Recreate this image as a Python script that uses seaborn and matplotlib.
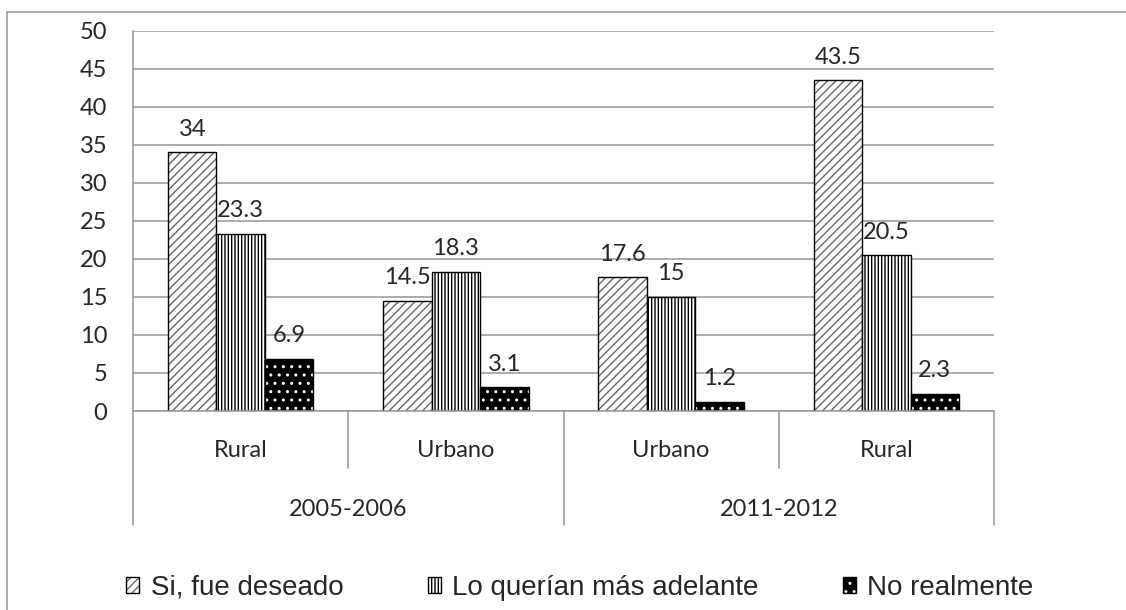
import pandas as pd
import matplotlib.pyplot as plt
import matplotlib.colors as mcolors
import matplotlib.transforms as mtransforms
from matplotlib.patches import Rectangle
import seaborn as sns

# ----------------------
# Data
# ----------------------

periodos = ["2005-2006", "2005-2006", "2011-2012", "2011-2012"]
zonas = ["Rural", "Urbano", "Urbano", "Rural"]
series = ["Si, fue deseado", "Lo querían más adelante", "No realmente"]

deseado = [34, 14.5, 17.6, 43.5]
mas_adelante = [23.3, 18.3, 15, 20.5]
no_realmente = [6.9, 3.1, 1.2, 2.3]

y_ticks = [0, 5, 10, 15, 20, 25, 30, 35, 40, 45, 50]

# ----------------------
# Style
# ----------------------

sns.set_style("white")
plt.rcParams["font.family"] = ["Lato", "DejaVu Sans"]
plt.rcParams["hatch.linewidth"] = 1.0

GRID = "#969696"
NUM_SIZE = 17

keys = [f"{z} {p}" for z, p in zip(zonas, periodos)]
records = []
for name, vals in zip(series, [deseado, mas_adelante, no_realmente]):
    for k, v in zip(keys, vals):
        records.append({"grupo": k, "serie": name, "valor": v})
df = pd.DataFrame(records)

fig = plt.figure(figsize=(11.26, 6.10), dpi=100)
ax = fig.add_axes([133 / 1126, 1 - 411 / 610, 861 / 1126, 380.3 / 610])

sns.barplot(data=df, x="grupo", y="valor", hue="serie", order=keys,
            hue_order=series, width=0.675, gap=0, palette=["white", "white", "black"],
            edgecolor="black", linewidth=1.0, legend=False, ax=ax)

# hatch patterns: diagonal, vertical stripes, white dots on black
hatches = ["////", "|||||", ".."]
hatch_colors = ["#666666", "black", "white"]
for cont, h, hc in zip(ax.containers, hatches, hatch_colors):
    for p in cont.patches:
        p.set_hatch(h)
        p._hatch_color = mcolors.to_rgba(hc)
    ax.bar_label(cont, fmt="{:g}", padding=9, fontsize=NUM_SIZE)

# ----------------------
# Axes
# ----------------------

ax.set_ylim(0, 50)
ax.set_xlim(-0.5, 3.5)
ax.set_yticks(y_ticks)
ax.yaxis.grid(True, color=GRID, linewidth=1.1)
ax.set_axisbelow(True)
ax.set_xlabel("")
ax.set_ylabel("")
ax.set_xticks(range(len(zonas)))
ax.set_xticklabels(zonas)
ax.tick_params(axis="y", length=6.5, width=1.1, color=GRID, direction="out",
               pad=12, labelsize=NUM_SIZE)
ax.tick_params(axis="x", length=0, pad=21, labelsize=NUM_SIZE)
for s in ["top", "right"]:
    ax.spines[s].set_visible(False)
for s in ["left", "bottom"]:
    ax.spines[s].set_color(GRID)
    ax.spines[s].set_linewidth(1.1)

# multi-level category axis separators
trans = mtransforms.blended_transform_factory(ax.transData, ax.transAxes)
for x in [-0.5, 1.5, 3.5]:
    ax.plot([x, x], [0, -0.30], color=GRID, lw=1.1, transform=trans, clip_on=False)
for x in [0.5, 2.5]:
    ax.plot([x, x], [0, -0.15], color=GRID, lw=1.1, transform=trans, clip_on=False)
for x, label in zip([0.5, 2.5], ["2005-2006", "2011-2012"]):
    ax.text(x, -0.26, label, transform=trans, ha="center", va="center",
            fontsize=NUM_SIZE)

# outer chart frame
fig.patches.append(Rectangle((7 / 1126, -0.1), 1.2, 1.1 - 12 / 610, fill=False,
                             edgecolor=GRID, linewidth=1.1,
                             transform=fig.transFigure, figure=fig))

# ----------------------
# Legend
# ----------------------

handles = [cont.patches[0] for cont in ax.containers]
fig.legend(handles, series, loc="center", bbox_to_anchor=(580 / 1126, 1 - 588 / 610),
           ncol=3, frameon=False, prop={"family": "Liberation Sans", "size": 20},
           handlelength=0.47, handleheight=0.47, handletextpad=0.4,
           columnspacing=3.05, borderpad=0)

fig.savefig("out.png", dpi=100)
